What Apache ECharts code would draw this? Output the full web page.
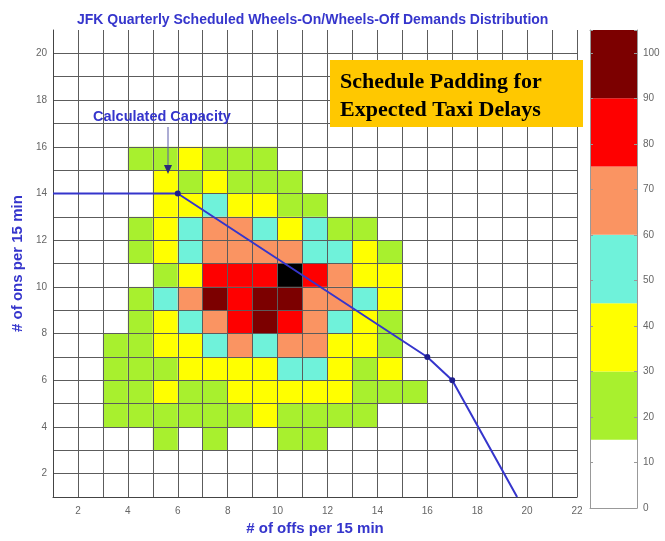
<!DOCTYPE html>
<html>
<head>
<meta charset="utf-8">
<script src="https://cdn.jsdelivr.net/npm/echarts@6/dist/echarts.min.js"></script>
<style>
  html, body { margin: 0; padding: 0; background: #fff; }
  #main { width: 665px; height: 541px; }
</style>
</head>
<body>
<div id="main"></div>
<script>
// lower-left corner of every cell: columns = # of offs, rows = # of ons
const offs = [3, 4, 5, 6, 7, 8, 9, 10, 11, 12, 13, 14, 15]
const ons = [15, 14, 13, 12, 11, 10, 9, 8, 7, 6, 5, 4, 3]
// counts (0 = white / empty)
const demand = [
  [0, 18, 22, 34, 24, 21, 17, 0, 0, 0, 0, 0, 0],
  [0, 0, 38, 26, 36, 22, 19, 17, 0, 0, 0, 0, 0],
  [0, 0, 40, 35, 50, 38, 33, 25, 19, 0, 0, 0, 0],
  [0, 22, 41, 52, 66, 68, 55, 40, 49, 24, 18, 0, 0],
  [0, 20, 39, 54, 70, 72, 69, 66, 56, 52, 37, 21, 0],
  [0, 0, 28, 42, 84, 87, 85, 110, 82, 71, 42, 33, 0],
  [0, 24, 50, 64, 96, 88, 99, 94, 73, 67, 53, 36, 0],
  [0, 23, 40, 57, 69, 86, 95, 83, 70, 55, 41, 27, 0],
  [19, 25, 43, 44, 58, 65, 53, 67, 62, 39, 36, 22, 0],
  [17, 26, 28, 38, 42, 44, 41, 51, 48, 37, 25, 31, 0],
  [18, 22, 31, 27, 29, 37, 40, 39, 35, 33, 24, 20, 16],
  [16, 21, 25, 26, 28, 29, 34, 27, 26, 22, 18, 0, 0],
  [0, 0, 17, 0, 20, 0, 0, 18, 16, 0, 0, 0, 0]
]

// colour scale (bins of 15)
const binEdges = [0, 15, 30, 45, 60, 75, 90, 105]
const binColors = ['#ffffff', '#a8f02e', '#ffff00', '#6ff2da', '#fa9462', '#fe0000', '#7c0000']
const overColor = '#000000'

// calculated capacity curve
const capOffs = [1, 6, 16, 17, 19.6]
const capOns = [14, 14, 7, 6, 1]

// tick labels
const xLabels = [2, 4, 6, 8, 10, 12, 14, 16, 18, 20, 22]
const yLabels = [2, 4, 6, 8, 10, 12, 14, 16, 18, 20]
const barLabels = [0, 10, 20, 30, 40, 50, 60, 70, 80, 90, 100]

const blue = '#3535cc'
const font = 'Liberation Sans, Arial, sans-serif'

function colorOf(v) {
  if (v > binEdges[binEdges.length - 1]) return overColor
  for (let i = 0; i < binColors.length; i++) {
    if (v < binEdges[i + 1]) return binColors[i]
  }
  return binColors[binColors.length - 1]
}

const cells = []
demand.forEach((row, r) => {
  row.forEach((v, c) => {
    if (v > 0) cells.push([offs[c], ons[r], v])
  })
})

const bins = binColors.map((c, i) => [i, binEdges[i], binEdges[i + 1]])

const chart = echarts.init(document.getElementById('main'))
chart.setOption({
  animation: false,
  backgroundColor: '#fff',
  title: {
    text: 'JFK Quarterly Scheduled Wheels-On/Wheels-Off Demands Distribution',
    left: 72,
    top: 8,
    textStyle: { color: blue, fontSize: 14, fontWeight: 'bold', fontFamily: font }
  },
  grid: [
    { left: 53, top: 30, width: 524, height: 470 },
    { left: 590, top: 30, width: 47, height: 478 }
  ],
  xAxis: [
    {
      gridIndex: 0, type: 'value', min: 1, max: 22, interval: 1, z: 3,
      axisLine: { onZero: false, lineStyle: { color: '#444' } },
      axisTick: { show: false },
      axisLabel: {
        color: '#666', fontSize: 10, fontFamily: font, margin: 9,
        formatter: v => xLabels.includes(v) ? String(v) : ''
      },
      splitLine: { show: true, lineStyle: { color: '#5c5c5c', width: 1 } },
      name: '# of offs per 15 min', nameLocation: 'middle', nameGap: 22,
      nameTextStyle: { color: blue, fontSize: 15, fontWeight: 'bold', fontFamily: font }
    },
    {
      gridIndex: 1, type: 'value', min: 0, max: 1,
      axisLine: { onZero: false, lineStyle: { color: '#999' } },
      axisTick: { show: false }, axisLabel: { show: false }, splitLine: { show: false }
    },
    {
      gridIndex: 1, type: 'value', min: 0, max: 1, position: 'top',
      axisLine: { onZero: false, lineStyle: { color: '#999' } },
      axisTick: { show: false }, axisLabel: { show: false }, splitLine: { show: false }
    }
  ],
  yAxis: [
    {
      gridIndex: 0, type: 'value', min: 1, max: 21, interval: 1, z: 3,
      axisLine: { onZero: false, lineStyle: { color: '#444' } },
      axisTick: { show: false },
      axisLabel: {
        color: '#666', fontSize: 10, fontFamily: font, margin: 6,
        formatter: v => yLabels.includes(v) ? String(v) : ''
      },
      splitLine: { show: true, showMaxLine: false, lineStyle: { color: '#5c5c5c', width: 1 } },
      name: '# of ons per 15 min', nameLocation: 'middle', nameGap: 25,
      nameTextStyle: { color: blue, fontSize: 15, fontWeight: 'bold', fontFamily: font }
    },
    {
      gridIndex: 1, type: 'value', min: 0, max: 105, interval: 10, position: 'right', z: 3,
      axisLine: { onZero: false, lineStyle: { color: '#999' } },
      axisTick: { inside: true, length: 3, lineStyle: { color: '#999' } },
      axisLabel: {
        color: '#666', fontSize: 10, fontFamily: font, margin: 6,
        formatter: v => barLabels.includes(v) ? String(v) : ''
      },
      splitLine: { show: false }
    },
    {
      gridIndex: 1, type: 'value', min: 0, max: 105, interval: 10, position: 'left', z: 3,
      axisLine: { onZero: false, lineStyle: { color: '#999' } },
      axisTick: { inside: true, length: 3, lineStyle: { color: '#999' } },
      axisLabel: { show: false },
      splitLine: { show: false }
    }
  ],
  series: [
    {
      type: 'custom',
      xAxisIndex: 0,
      yAxisIndex: 0,
      data: cells,
      renderItem: (params, api) => {
        const x = api.value(0), y = api.value(1)
        const a = api.coord([x, y + 1])
        const b = api.coord([x + 1, y])
        return {
          type: 'rect',
          shape: { x: a[0], y: a[1], width: b[0] - a[0], height: b[1] - a[1] },
          style: { fill: colorOf(api.value(2)) }
        }
      }
    },
    {
      type: 'line',
      xAxisIndex: 0,
      yAxisIndex: 0,
      z: 5,
      data: capOffs.map((x, i) => [x, capOns[i]]),
      symbol: 'circle',
      symbolSize: (v, p) => (p.dataIndex > 0 && p.dataIndex < capOffs.length - 1) ? 6 : 0,
      itemStyle: { color: '#1e1e8e' },
      lineStyle: { color: blue, width: 2 }
    },
    {
      type: 'custom',
      xAxisIndex: 1,
      yAxisIndex: 1,
      data: bins,
      renderItem: (params, api) => {
        const a = api.coord([0, api.value(2)])
        const b = api.coord([1, api.value(1)])
        return {
          type: 'rect',
          shape: { x: a[0], y: a[1], width: b[0] - a[0], height: b[1] - a[1] },
          style: { fill: binColors[api.value(0)] }
        }
      }
    }
  ],
  graphic: [
    {
      type: 'text', left: 93, top: 109, z: 10,
      style: { text: 'Calculated Capacity', fill: blue, fontSize: 14.5, fontWeight: 'bold', fontFamily: font }
    },
    {
      type: 'line', z: 10,
      shape: { x1: 168, y1: 127, x2: 168, y2: 168 },
      style: { stroke: '#5a5aa8', lineWidth: 1 }
    },
    {
      type: 'polygon', z: 10,
      shape: { points: [[164, 165], [172, 165], [168, 174]] },
      style: { fill: '#2a2a7a' }
    },
    {
      type: 'rect', z: 10,
      shape: { x: 330, y: 60, width: 253, height: 67 },
      style: { fill: '#ffc800' }
    },
    {
      type: 'text', left: 340, top: 68, z: 11,
      style: {
        text: 'Schedule Padding for\nExpected Taxi Delays',
        fill: '#000', fontSize: 22, fontWeight: 'bold', lineHeight: 28,
        fontFamily: 'Liberation Serif, Times New Roman, serif'
      }
    }
  ]
})
</script>
</body>
</html>
